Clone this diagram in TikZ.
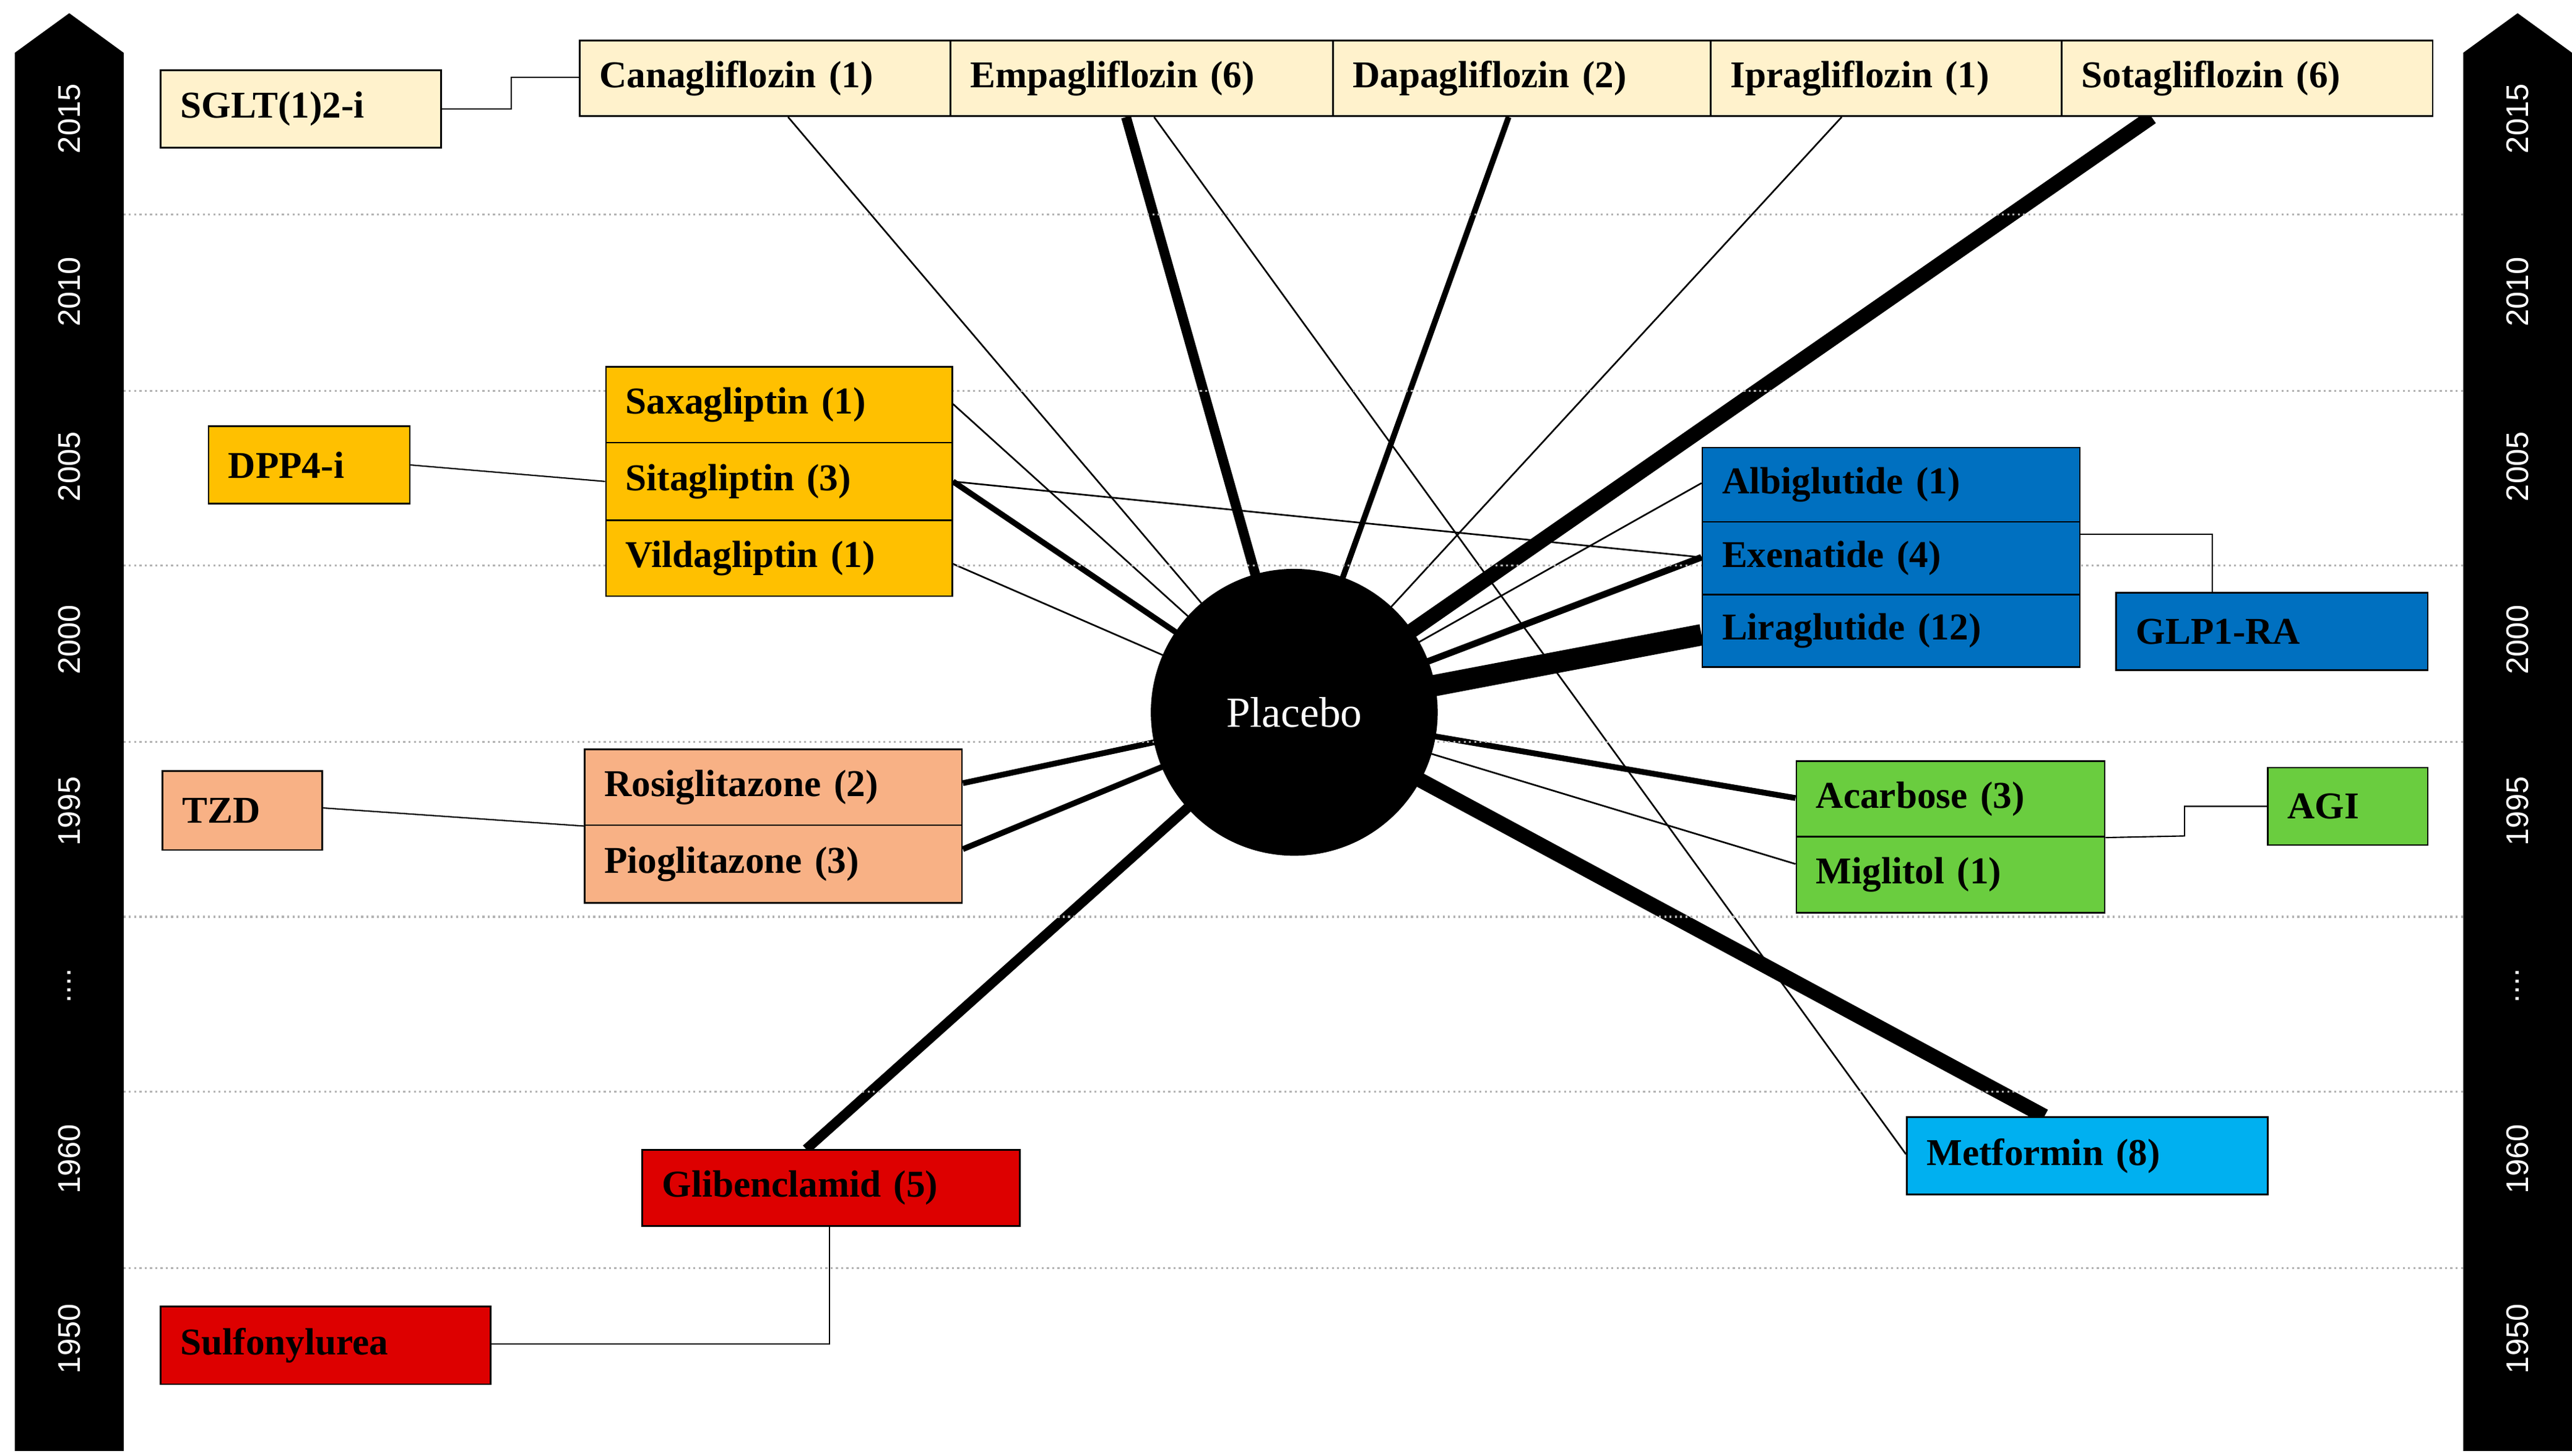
\documentclass[tikz,border=0pt]{standalone}
\usepackage{fontspec}
\setmainfont{Liberation Serif}
\newfontfamily\yrfont{Liberation Sans}
\usetikzlibrary{calc,backgrounds}
\definecolor{sg}{HTML}{FFF2CC}
\definecolor{dp}{HTML}{FFC000}
\definecolor{tz}{HTML}{F8B185}
\definecolor{su}{HTML}{DD0000}
\definecolor{gl}{HTML}{0070C0}
\definecolor{ag}{HTML}{6ACD3F}
\definecolor{mf}{HTML}{00B0F0}
\begin{document}
\begin{tikzpicture}[x=1pt,y=-1pt,
 bx/.style={draw=black,line width=1pt,inner sep=0pt,anchor=north west,font=\fontsize{23}{25}\selectfont\bfseries},
 yr/.style={white,rotate=90,font=\fontsize{19}{20}\selectfont\yrfont},
 e/.style={line width=#1},
 grid/.style={gray!60,dotted,line width=1.2pt}]
\useasboundingbox (0,0) rectangle (1560,883);
% grid
\foreach \y in {130,237,343,450,556,662,769} \draw[grid] (75,\y) -- (1495,\y);
% time bars
\foreach \x in {42,1527}{
 \fill ($(\x,8)$) -- ++(33,24) -- ++(0,848) -- ++(-66,0) -- ++(0,-848) -- cycle;
 \foreach \y/\t in {72/2015,177/2010,283/2005,388/2000,492/1995,598/{....},703/1960,812/1950}
   \node[yr] at (\x,\y) {\t};
}
% nodes
\def\B#1#2#3#4#5#6#7{\node[bx,fill=#2,minimum width=#5pt,minimum height=#6pt,align=left,text width={#5pt-24pt}] (#1) at (#3,#4) {#7};}
\B{sglt}{sg}{97}{42}{170}{47}{SGLT(1)2-i}
\B{cana}{sg}{351}{24}{225}{46}{Canagliflozin (1)}
\B{empa}{sg}{576}{24}{232}{46}{Empagliflozin (6)}
\B{dapa}{sg}{808}{24}{229}{46}{Dapagliflozin (2)}
\B{ipra}{sg}{1037}{24}{213}{46}{Ipragliflozin (1)}
\B{sota}{sg}{1250}{24}{225}{46}{Sotagliflozin (6)}
\B{dpp}{dp}{126}{258}{122}{47}{DPP4-i}
\B{saxa}{dp}{367}{222}{210}{46}{Saxagliptin (1)}
\B{sita}{dp}{367}{268}{210}{47}{Sitagliptin (3)}
\B{vild}{dp}{367}{315}{210}{46}{Vildagliptin (1)}
\B{tzd}{tz}{98}{467}{97}{48}{TZD}
\B{rosi}{tz}{354}{454}{229}{46}{Rosiglitazone (2)}
\B{piog}{tz}{354}{500}{229}{47}{Pioglitazone (3)}
\B{sulf}{su}{97}{792}{200}{47}{Sulfonylurea}
\B{glib}{su}{389}{697}{229}{46}{Glibenclamid (5)}
\B{albi}{gl}{1032}{271}{229}{45}{Albiglutide (1)}
\B{exen}{gl}{1032}{316}{229}{44}{Exenatide (4)}
\B{lira}{gl}{1032}{360}{229}{44}{Liraglutide (12)}
\B{glp}{gl}{1283}{359}{189}{47}{GLP1-RA}
\B{acar}{ag}{1089}{461}{187}{46}{Acarbose (3)}
\B{migl}{ag}{1089}{507}{187}{46}{Miglitol (1)}
\B{agi}{ag}{1375}{465}{97}{47}{AGI}
\B{metf}{mf}{1156}{677}{219}{47}{Metformin (8)}
\node[circle,fill=black,minimum size=174pt,text=white,font=\fontsize{26}{28}\selectfont] (pl) at (785,432) {Placebo};
% group connectors
\draw[line width=0.8pt] (sglt.east|-0,66) -- (310,66) -- (310,47) -- (cana.west|-0,47);
\draw[line width=0.8pt] (dpp.east|-0,282) -- (sita.west|-0,292);
\draw[line width=0.8pt] (tzd.east|-0,490) -- (rosi.south west);
\draw[line width=0.8pt] (sulf.east|-0,815) -- (503,815) -- (glib.south-|503,0);
\draw[line width=0.8pt] (exen.east|-0,324) -- (1342,324) -- (glp.north-|1342,0);
\draw[line width=0.8pt] (acar.south east) -- (1325,507) -- (1325,489) -- (agi.west|-0,489);
% edges
\begin{scope}[on background layer]
\draw[e=1pt] (cana.south-|478,0) -- (pl.center);
\draw[e=6pt] (empa.south-|683,0) -- (pl.center);
\draw[e=1pt] (empa.south-|700,0) -- (metf.west|-0,700);
\draw[e=3.5pt] (dapa.south-|915,0) -- (pl.center);
\draw[e=1pt] (ipra.south-|1117,0) -- (pl.center);
\draw[e=9pt] (sota.south-|1305,0) -- (pl.center);
\draw[e=1pt] (saxa.east|-0,245) -- (pl.center);
\draw[e=3.5pt] (sita.east|-0,292) -- (pl.center);
\draw[e=1pt] (sita.east|-0,292) -- (exen.west|-0,338);
\draw[e=1pt] (vild.east|-0,342) -- (pl.center);
\draw[e=1pt] (albi.west|-0,293) -- (pl.center);
\draw[e=4pt] (exen.west|-0,338) -- (pl.center);
\draw[e=13pt] (lira.west|-0,385) -- (pl.center);
\draw[e=3.5pt] (acar.west|-0,484) -- (pl.center);
\draw[e=1pt] (migl.west|-0,524) -- (pl.center);
\draw[e=9pt] (metf.north-|1240,0) -- (pl.center);
\draw[e=3.5pt] (rosi.east|-0,475) -- (pl.center);
\draw[e=3.5pt] (piog.east|-0,515) -- (pl.center);
\draw[e=6pt] (glib.north-|489,0) -- (pl.center);
\end{scope}
\end{tikzpicture}
\end{document}
